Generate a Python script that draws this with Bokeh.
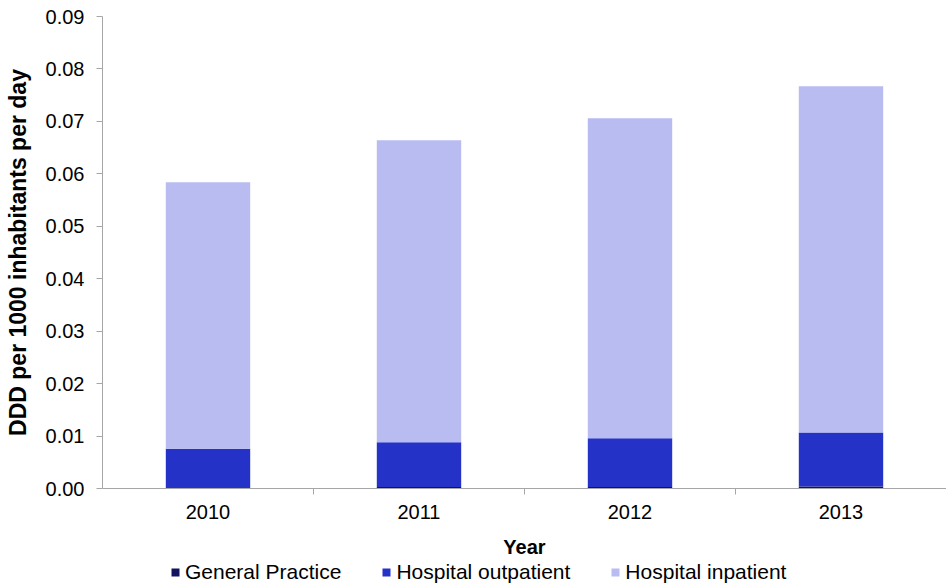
from bokeh.plotting import figure
from bokeh.layouts import column
from bokeh.models import Range1d, FixedTicker, Legend, LegendItem, NumeralTickFormatter, ColumnDataSource
from bokeh.embed import file_html
from bokeh.resources import INLINE

years = ["2010", "2011", "2012", "2013"]
general_practice = [0.0001, 0.0003, 0.0003, 0.0004]
hospital_outpatient = [0.0075, 0.0085, 0.0093, 0.0103]
hospital_inpatient = [0.0508, 0.0576, 0.0610, 0.0660]
series = ["General Practice", "Hospital outpatient", "Hospital inpatient"]
colors = ["#12125E", "#2432C8", "#B8BCF1"]
y_ticks = [0.00, 0.01, 0.02, 0.03, 0.04, 0.05, 0.06, 0.07, 0.08, 0.09]

n = len(years)
xs = [i + 0.5 for i in range(n)]
source = ColumnDataSource(dict(x=xs, gp=general_practice, op=hospital_outpatient, ip=hospital_inpatient))

FONT = "Liberation Sans"
AXIS_GREY = "#A6A6A6"

p = figure(width=946, height=560, output_backend="svg", toolbar_location=None,
           x_range=Range1d(0, n), y_range=Range1d(0, 0.09),
           min_border_left=102, min_border_right=0, min_border_top=16, min_border_bottom=72)
p.outline_line_color = None
p.xgrid.grid_line_color = None
p.ygrid.grid_line_color = None

rs = p.vbar_stack(["gp", "op", "ip"], x="x", width=0.4, source=source,
                  color=colors, line_color=None)

# y axis
p.yaxis.ticker = FixedTicker(ticks=y_ticks)
p.yaxis.formatter = NumeralTickFormatter(format="0.00")
p.yaxis.axis_label = "DDD per 1000 inhabitants per day"
p.yaxis.axis_label_text_font = FONT
p.yaxis.axis_label_text_font_style = "bold"
p.yaxis.axis_label_text_font_size = "23px"
p.yaxis.axis_label_text_color = "#000000"
p.yaxis.axis_label_standoff = 12
p.yaxis.major_label_text_font = FONT
p.yaxis.major_label_text_font_size = "20px"
p.yaxis.major_label_text_color = "#000000"
p.yaxis.major_label_standoff = 12
p.yaxis.axis_line_color = AXIS_GREY
p.yaxis.major_tick_line_color = AXIS_GREY
p.yaxis.major_tick_out = 6
p.yaxis.major_tick_in = 0
p.yaxis.minor_tick_line_color = None

# x axis: labels at category centres, ticks at category boundaries
p.xaxis.ticker = FixedTicker(ticks=xs, minor_ticks=list(range(1, n)))
p.xaxis.major_label_overrides = {x: y for x, y in zip(xs, years)}
p.xaxis.axis_label = "Year"
p.xaxis.axis_label_text_font = FONT
p.xaxis.axis_label_text_font_style = "bold"
p.xaxis.axis_label_text_font_size = "20px"
p.xaxis.axis_label_text_color = "#000000"
p.xaxis.axis_label_standoff = 14
p.xaxis.major_label_text_font = FONT
p.xaxis.major_label_text_font_size = "20px"
p.xaxis.major_label_text_color = "#000000"
p.xaxis.major_label_standoff = 10
p.xaxis.axis_line_color = AXIS_GREY
p.xaxis.major_tick_line_color = None
p.xaxis.major_tick_out = 0
p.xaxis.major_tick_in = 0
p.xaxis.minor_tick_line_color = AXIS_GREY
p.xaxis.minor_tick_out = 6
p.xaxis.minor_tick_in = 0

# legend strip below the chart (its bars lie outside the strip's visible y range)
q = figure(width=946, height=24, output_backend="svg", toolbar_location=None,
           x_range=Range1d(0, n), y_range=Range1d(1, 2),
           min_border_left=0, min_border_right=0, min_border_top=0, min_border_bottom=0)
q.axis.visible = False
q.xgrid.grid_line_color = None
q.ygrid.grid_line_color = None
q.outline_line_color = None
key_renderers = q.vbar_stack(["gp", "op", "ip"], x="x", width=0.4, source=source,
                             color=colors, line_color=None)
legend = Legend(items=[LegendItem(label=s, renderers=[r]) for s, r in zip(series, key_renderers)],
                orientation="horizontal", location=(68, 0),
                label_text_font=FONT, label_text_font_size="21px", label_text_color="#000000",
                glyph_width=10, glyph_height=10, label_standoff=5, spacing=40,
                padding=0, margin=0, border_line_color=None, background_fill_alpha=0)
q.add_layout(legend, "center")

layout = column(p, q, spacing=0)
open("out.html", "w").write(file_html(layout, INLINE))
